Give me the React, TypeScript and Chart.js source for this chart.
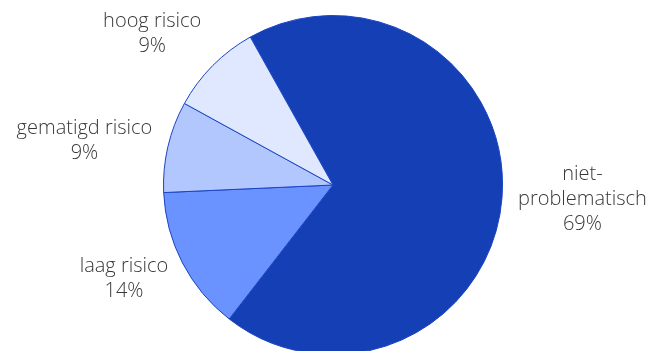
import React, { useEffect, useRef } from "react";
import { Chart, registerables } from "chart.js";

Chart.register(...registerables);

const categories: string[][] = [
  ["niet-", "problematisch"],
  ["laag risico"],
  ["gematigd risico"],
  ["hoog risico"],
];
const values: number[] = [68.6, 13.8, 8.7, 8.9];
const colors: string[] = ["#1540B5", "#6B93FF", "#B3C7FF", "#E0E8FF"];

const labelPlugin = {
  id: "outerLabels",
  afterDatasetsDraw(chart: any) {
    const ctx = chart.ctx;
    const meta = chart.getDatasetMeta(0);
    const total = values.reduce((a, b) => a + b, 0);
    const fontSize = 20;
    const lineH = 25;
    ctx.save();
    ctx.font = `300 ${fontSize}px "Open Sans", sans-serif`;
    ctx.fillStyle = "#383838";
    ctx.textBaseline = "middle";
    meta.data.forEach((arc: any, i: number) => {
      const { x, y, startAngle, endAngle, outerRadius } = arc.getProps(
        ["x", "y", "startAngle", "endAngle", "outerRadius"],
        true
      );
      const mid = (startAngle + endAngle) / 2;
      const dx = Math.cos(mid);
      const dy = Math.sin(mid);
      const R = outerRadius + 16;
      const ax = x + dx * R;
      const ay = y + dy * R;
      const lines = [...categories[i], Math.round((values[i] / total) * 100) + "%"];
      const widths = lines.map((l) => ctx.measureText(l).width);
      const w = Math.max(...widths);
      const h = lines.length * lineH;
      const cx = dx < 0 ? ax - w / 2 : ax + w / 2;
      const cy = ay + dy * Math.abs(dy) * (h / 2) * 1.63;
      ctx.textAlign = "center";
      lines.forEach((l, k) => {
        ctx.fillText(l, cx, cy - h / 2 + lineH * (k + 0.5));
      });
    });
    ctx.restore();
  },
};

export default function App() {
  const ref = useRef<HTMLCanvasElement>(null);
  useEffect(() => {
    const chart = new Chart(ref.current!, {
      type: "pie",
      data: {
        labels: categories.map((c) => c.join(" ")),
        datasets: [
          {
            data: values,
            backgroundColor: colors,
            borderColor: "#1a44c4",
            borderWidth: 1,
            hoverOffset: 0,
          },
        ],
      },
      options: {
        responsive: false,
        animation: false,
        devicePixelRatio: 1,
        rotation: -29.2,
        layout: { padding: { top: 15, left: 163, right: 149, bottom: 25 } },
        plugins: { legend: { display: false }, tooltip: { enabled: false } },
      },
      plugins: [labelPlugin],
    });
    return () => chart.destroy();
  }, []);
  return (
    <div style={{ position: "fixed", left: 0, top: 0, width: 652, height: 351, overflow: "hidden", background: "#fff" }}>
      <canvas ref={ref} width={652} height={380} />
    </div>
  );
}
